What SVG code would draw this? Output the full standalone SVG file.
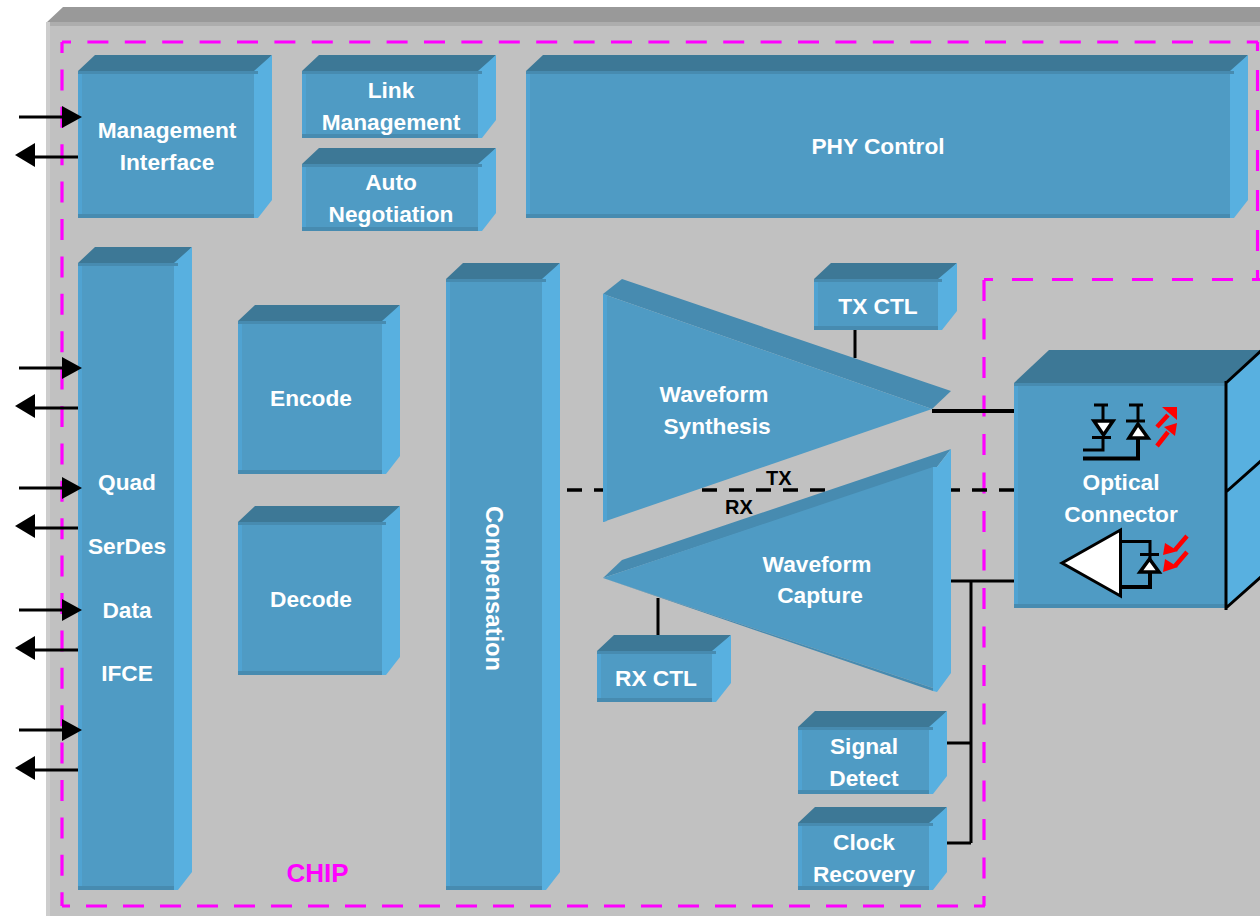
<svg xmlns="http://www.w3.org/2000/svg" width="1260" height="916" viewBox="0 0 1260 916">
<style>
text{font-family:"Liberation Sans",Arial,sans-serif;font-weight:bold}
.l{font-size:22.7px;fill:#fff;text-anchor:middle}
.f{fill:#4F9BC4}.t{fill:#3D7896}.s{fill:#58B0E0}.b{fill:#478BB0}.e{fill:#50A3D2}
.w{fill:#000;stroke:none}
.c{fill:none;stroke:#000;stroke-width:3}
.ic{fill:none;stroke:#000;stroke-width:3}
.tri{fill:#fff;stroke:#000;stroke-width:3.5}
.red{fill:none;stroke:#f00;stroke-width:4.5}
.rh{fill:#f00}
.m{fill:none;stroke:#F0F;stroke-width:3.2}
</style>
<rect width="1260" height="916" fill="#fff"/>
<g id="chip-body">
<polygon points="46,23 63,7 1260,7 1260,23" fill="#999"/>
<rect x="46" y="22" width="1214" height="894" fill="#C1C1C1"/>
<rect x="46" y="22" width="1214" height="4" fill="#ADADAD"/>
<rect x="46" y="22" width="4" height="894" fill="#CDCDCD"/>
</g>
<g id="chip-boundary">
<path class="m" d="M62 42H1258" stroke-dasharray="21 16.4" stroke-dashoffset="12"/>
<path class="m" d="M62 42V906" stroke-dasharray="21 16.4" stroke-dashoffset="10"/>
<path class="m" d="M1257.500 42V279" stroke-dasharray="21 19" stroke-dashoffset="12"/>
<path class="m" d="M984 279.500H1260" stroke-dasharray="21 19" stroke-dashoffset="12"/>
<path class="m" d="M984 280V906" stroke-dasharray="21 17.500"/>
<path class="m" d="M985 906H62" stroke-dasharray="21 16" stroke-dashoffset="10"/>
</g>
<g id="connectors-back">
<path d="M567 490H1014" fill="none" stroke="#000" stroke-width="3.5" stroke-dasharray="15 12"/>
</g>
<g id="management-interface"><polygon class="t" points="78,71 95,55 272,55 258,71"/><polygon class="s" points="254,71 272,55 272,200 258,218 254,218"/><rect class="f" x="78" y="71" width="180" height="147"/><rect class="s" x="254" y="73" width="4" height="145"/><rect class="e" x="78" y="73" width="4" height="145"/><rect class="b" x="78" y="71" width="180" height="3"/><rect class="b" x="78" y="214" width="176" height="4"/><text class="l" x="167" y="138">Management</text><text class="l" x="167" y="170">Interface</text></g>
<g id="link-management"><polygon class="t" points="302,71 319,55 496,55 482,71"/><polygon class="s" points="478,71 496,55 496,120 482,138 478,138"/><rect class="f" x="302" y="71" width="180" height="67"/><rect class="s" x="478" y="73" width="4" height="65"/><rect class="e" x="302" y="73" width="4" height="65"/><rect class="b" x="302" y="71" width="180" height="3"/><rect class="b" x="302" y="134" width="176" height="4"/><text class="l" x="391" y="98">Link</text><text class="l" x="391" y="130">Management</text></g>
<g id="auto-negotiation"><polygon class="t" points="302,164 319,148 496,148 482,164"/><polygon class="s" points="478,164 496,148 496,213 482,231 478,231"/><rect class="f" x="302" y="164" width="180" height="67"/><rect class="s" x="478" y="166" width="4" height="65"/><rect class="e" x="302" y="166" width="4" height="65"/><rect class="b" x="302" y="164" width="180" height="3"/><rect class="b" x="302" y="227" width="176" height="4"/><text class="l" x="391" y="190">Auto</text><text class="l" x="391" y="222">Negotiation</text></g>
<g id="phy-control"><polygon class="t" points="526,71 543,55 1248,55 1234,71"/><polygon class="s" points="1230,71 1248,55 1248,200 1234,218 1230,218"/><rect class="f" x="526" y="71" width="708" height="147"/><rect class="s" x="1230" y="73" width="4" height="145"/><rect class="e" x="526" y="73" width="4" height="145"/><rect class="b" x="526" y="71" width="708" height="3"/><rect class="b" x="526" y="214" width="704" height="4"/><text class="l" x="878" y="154">PHY Control</text></g>
<g id="quad-serdes"><polygon class="t" points="78,263 95,247 192,247 178,263"/><polygon class="s" points="174,263 192,247 192,872 178,890 174,890"/><rect class="f" x="78" y="263" width="100" height="627"/><rect class="s" x="174" y="265" width="4" height="625"/><rect class="e" x="78" y="265" width="4" height="625"/><rect class="b" x="78" y="263" width="100" height="3"/><rect class="b" x="78" y="886" width="96" height="4"/><text class="l" x="127" y="490">Quad</text><text class="l" x="127" y="554">SerDes</text><text class="l" x="127" y="618">Data</text><text class="l" x="127" y="681">IFCE</text></g>
<g id="encode"><polygon class="t" points="238,321 255,305 400,305 386,321"/><polygon class="s" points="382,321 400,305 400,456 386,474 382,474"/><rect class="f" x="238" y="321" width="148" height="153"/><rect class="s" x="382" y="323" width="4" height="151"/><rect class="e" x="238" y="323" width="4" height="151"/><rect class="b" x="238" y="321" width="148" height="3"/><rect class="b" x="238" y="470" width="144" height="4"/><text class="l" x="311" y="406">Encode</text></g>
<g id="decode"><polygon class="t" points="238,522 255,506 400,506 386,522"/><polygon class="s" points="382,522 400,506 400,657 386,675 382,675"/><rect class="f" x="238" y="522" width="148" height="153"/><rect class="s" x="382" y="524" width="4" height="151"/><rect class="e" x="238" y="524" width="4" height="151"/><rect class="b" x="238" y="522" width="148" height="3"/><rect class="b" x="238" y="671" width="144" height="4"/><text class="l" x="311" y="607">Decode</text></g>
<g id="compensation"><polygon class="t" points="446,279 463,263 560,263 546,279"/><polygon class="s" points="542,279 560,263 560,872 546,890 542,890"/><rect class="f" x="446" y="279" width="100" height="611"/><rect class="s" x="542" y="281" width="4" height="609"/><rect class="e" x="446" y="281" width="4" height="609"/><rect class="b" x="446" y="279" width="100" height="3"/><rect class="b" x="446" y="886" width="96" height="4"/><text class="l" style="font-size:23.8px" transform="translate(485.500 588.500) rotate(90)" x="0" y="0">Compensation</text></g>
<g id="connectors">
<path class="c" d="M855 330V358M658 598V635M951 581H1014M971 581V843M947 743H971M947 843H971"/>
<path class="c" style="stroke-width:4" d="M932 411H1014"/>
<path class="c" d="M19 117H64M78 157H33M19 368H64M78 408H33M19 488H64M78 528H33M19 610H64M78 650H33M19 730H64M78 770H33"/>
<g class="w">
<polygon points="62,106 82,117 62,128"/><polygon points="35,143 15,155 35,167"/>
<polygon points="62,357 82,368 62,379"/><polygon points="35,394 15,406 35,418"/>
<polygon points="62,477 82,488 62,499"/><polygon points="35,514 15,526 35,538"/>
<polygon points="62,599 82,610 62,621"/><polygon points="35,636 15,648 35,660"/>
<polygon points="62,719 82,730 62,741"/><polygon points="35,756 15,768 35,780"/>
</g>
</g>
<g id="waveform-synthesis"><polygon class="b" points="603,294 622,279 951,391 932,409"/><polygon class="f" points="603,294 932,409 603,522"/><polygon class="e" points="603,294 607,295 607,521 603,522"/><text class="l" x="714" y="402">Waveform</text><text class="l" x="717" y="434">Synthesis</text></g>
<g id="waveform-capture"><polygon class="b" points="603,578 622,560 951,449 937,467"/><polygon class="s" points="933,467 937,467 951,449 951,673 937,692 933,691"/><polygon class="f" points="603,578 933,467 933,688 603,578"/><polygon class="b" points="603,578 933,688 933,691"/><text class="l" x="817" y="572">Waveform</text><text class="l" x="820" y="603">Capture</text></g>
<g id="tx-ctl"><polygon class="t" points="814,279 831,263 957,263 942,279"/><polygon class="s" points="938,279 957,263 957,311 942,330 938,330"/><rect class="f" x="814" y="279" width="128" height="51"/><rect class="s" x="938" y="281" width="4" height="49"/><rect class="e" x="814" y="281" width="4" height="49"/><rect class="b" x="814" y="279" width="128" height="3"/><rect class="b" x="814" y="326" width="124" height="4"/><text class="l" x="878" y="314">TX CTL</text></g>
<g id="rx-ctl"><polygon class="t" points="597,651 614,635 731,635 716,651"/><polygon class="s" points="712,651 731,635 731,683 716,702 712,702"/><rect class="f" x="597" y="651" width="119" height="51"/><rect class="s" x="712" y="653" width="4" height="49"/><rect class="e" x="597" y="653" width="4" height="49"/><rect class="b" x="597" y="651" width="119" height="3"/><rect class="b" x="597" y="698" width="115" height="4"/><text class="l" x="656" y="686">RX CTL</text></g>
<g id="signal-detect"><polygon class="t" points="798,727 815,711 947,711 933,727"/><polygon class="s" points="929,727 947,711 947,776 933,794 929,794"/><rect class="f" x="798" y="727" width="135" height="67"/><rect class="s" x="929" y="729" width="4" height="65"/><rect class="e" x="798" y="729" width="4" height="65"/><rect class="b" x="798" y="727" width="135" height="3"/><rect class="b" x="798" y="790" width="131" height="4"/><text class="l" x="864" y="754">Signal</text><text class="l" x="864" y="786">Detect</text></g>
<g id="clock-recovery"><polygon class="t" points="798,823 815,807 947,807 933,823"/><polygon class="s" points="929,823 947,807 947,872 933,890 929,890"/><rect class="f" x="798" y="823" width="135" height="67"/><rect class="s" x="929" y="825" width="4" height="65"/><rect class="e" x="798" y="825" width="4" height="65"/><rect class="b" x="798" y="823" width="135" height="3"/><rect class="b" x="798" y="886" width="131" height="4"/><text class="l" x="864" y="850">Clock</text><text class="l" x="864" y="882">Recovery</text></g>
<g id="optical-connector"><polygon class="t" points="1014,383 1049,350 1260,350 1260,352 1226,383"/><polygon class="s" points="1226,383 1260,352 1260,578 1226,608"/><rect class="f" x="1014" y="383" width="212" height="225"/><rect class="e" x="1014" y="385" width="4" height="223"/><rect class="b" x="1014" y="383" width="212" height="3"/><rect class="b" x="1014" y="604" width="212" height="4"/>
<path class="c" d="M1226 383L1262 350M1226 381V610M1226 492L1262 460M1226 608L1262 576"/>
<text class="l" x="1121" y="490">Optical</text><text class="l" x="1121" y="522">Connector</text>
<path class="ic" d="M1094 405H1108M1103 405V421M1092 437.500H1111M1103 437V450H1083"/>
<polygon class="tri" points="1094,421 1113,421 1103.500,435"/>
<path class="ic" d="M1129 405H1143M1138 405V421M1126 421H1145"/>
<path class="ic" style="stroke-width:4" d="M1138 438V458.500H1083"/>
<polygon class="tri" points="1138,424 1129,438 1148,438"/>
<polygon class="tri" style="stroke-width:3" points="1062,563 1120.500,530 1120.500,596"/>
<path class="ic" d="M1120 541.500H1150V569M1140 554.500H1159"/>
<path class="ic" style="stroke-width:4" d="M1150 570V587H1120"/>
<polygon class="tri" points="1149.500,559 1140,572 1159,572"/>
<path class="red" d="M1157 427L1168 415M1157 446L1168 432M1187 536L1175 550M1187 552L1175 566"/>
<polygon class="rh" points="1162,407 1177,407 1177,420"/><polygon class="rh" points="1164,427 1177,423 1175,436"/><polygon class="rh" points="1163,555 1165,543 1178,551"/><polygon class="rh" points="1163,572 1165,559 1178,567"/>
</g>
<g id="labels">
<text x="766" y="485" font-size="20" fill="#000">TX</text>
<text x="725" y="514" font-size="20" fill="#000">RX</text>
<text x="286.500" y="882" font-size="26" fill="#F0F">CHIP</text>
</g>
</svg>
